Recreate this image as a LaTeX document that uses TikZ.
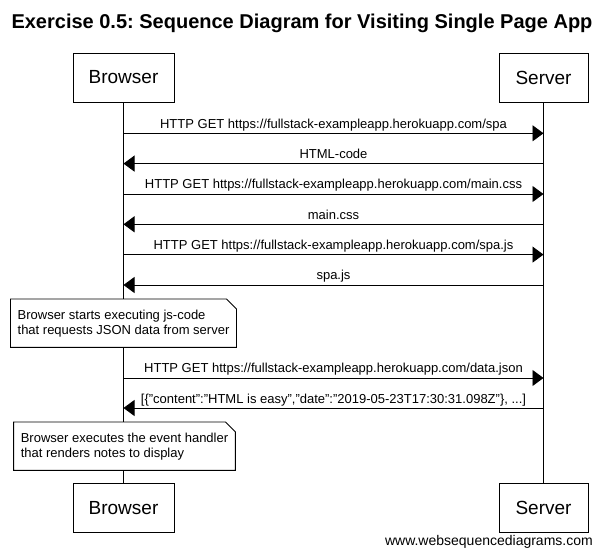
\documentclass[tikz,border=0pt]{standalone}
\usepackage{fontspec}
\setmainfont{Liberation Sans}
\usetikzlibrary{arrows.meta, positioning}

\tikzset{
  actor/.style={draw, line width=0.9pt, font=\fontsize{19}{22}\selectfont, minimum height=49pt},
  msg/.style={line width=0.9pt, -{Triangle[length=11pt,width=16pt]}},
  lbl/.style={anchor=base, yshift=5pt, inner sep=0pt, font=\fontsize{13}{15}\selectfont},
  note/.style={fill=white, align=left, inner xsep=7pt, minimum height=48pt, font=\fontsize{13}{15}\selectfont}
}
\frenchspacing

\begin{document}
\begin{tikzpicture}[x=1pt, y=-1pt]
      \useasboundingbox (0,0) rectangle (603,556);
      \node[font=\bfseries\fontsize{20}{24}\selectfont, anchor=base] (title) at (302,29) {Exercise 0.5: Sequence Diagram for Visiting Single Page App};
      \node[actor, minimum width=101pt] (B) at (123.5,77.5) {Browser};
      \node[actor, minimum width=89pt] (S) at (543.5,77.5) {Server};
      \node[actor, minimum width=101pt] (B2)[below=381pt of B] {Browser};
      \node[actor, minimum width=89pt] (S2)[below=381pt of S] {Server};
      \draw[line width=0.9pt] (B) -- (B2);
      \draw[line width=0.9pt] (S) -- (S2);
      % points on the lifelines
      \coordinate (b1) at (123.5,133.3); \coordinate (s1) at (543.5,133.3);
      \coordinate (b2) at (123.5,163.6); \coordinate (s2) at (543.5,163.6);
      \coordinate (b3) at (123.5,194); \coordinate (s3) at (543.5,194);
      \coordinate (b4) at (123.5,224.3); \coordinate (s4) at (543.5,224.3);
      \coordinate (b5) at (123.5,254.6); \coordinate (s5) at (543.5,254.6);
      \coordinate (b6) at (123.5,285); \coordinate (s6) at (543.5,285);
      \coordinate (b7) at (123.5,378); \coordinate (s7) at (543.5,378);
      \coordinate (b8) at (123.5,408); \coordinate (s8) at (543.5,408);
      \draw[msg] (b1) -- node[lbl] {HTTP GET https://fullstack-exampleapp.herokuapp.com/spa} (s1);
      \draw[msg] (s2) -- node[lbl] {HTML-code} (b2);
      \draw[msg] (b3) -- node[lbl] {HTTP GET https://fullstack-exampleapp.herokuapp.com/main.css} (s3);
      \draw[msg] (s4) -- node[lbl] {main.css} (b4);
      \draw[msg] (b5) -- node[lbl] {HTTP GET https://fullstack-exampleapp.herokuapp.com/spa.js} (s5);
      \draw[msg] (s6) -- node[lbl] {spa.js} (b6);
      \draw[msg] (b7) -- node[lbl] {HTTP GET https://fullstack-exampleapp.herokuapp.com/data.json} (s7);
      \draw[msg] (s8) -- node[lbl] {[\{"content":"HTML is easy","date":"2019-05-23T17:30:31.098Z"\}, ...]} (b8);
      % notes
      \node[note, anchor=north] (N1) at (123.5,299) {Browser starts executing js-code\\that requests JSON data from server};
      \draw[line width=0.9pt] (N1.north west) -- ([xshift=-10pt]N1.north east) -- ([yshift=-10pt]N1.north east) -- (N1.south east) -- (N1.south west) -- cycle;
      \node[note, anchor=north] (N2) at (124.5,422) {Browser executes the event handler\\that renders notes to display};
      \draw[line width=0.9pt] (N2.north west) -- ([xshift=-10pt]N2.north east) -- ([yshift=-10pt]N2.north east) -- (N2.south east) -- (N2.south west) -- cycle;
      \node[anchor=base east, font=\fontsize{14}{16}\selectfont, inner sep=0pt] (site) at (593,545) {www.websequencediagrams.com};
    \end{tikzpicture}
\end{document}
